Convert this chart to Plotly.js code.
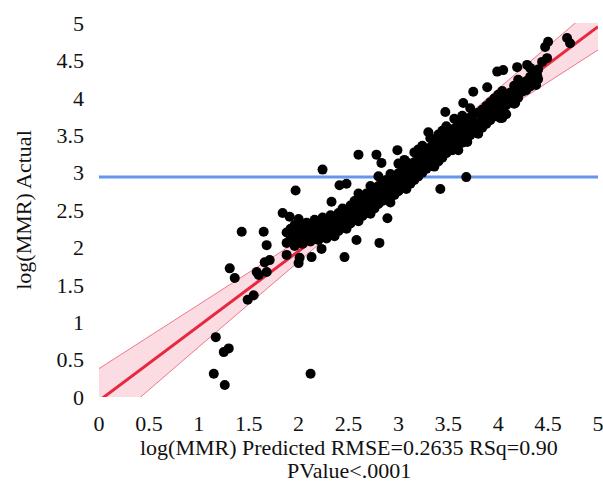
<!DOCTYPE html>
<html>
<head>
<meta charset="utf-8">
<script src="https://cdn.plot.ly/plotly-3.0.1.min.js"></script>
<style>html,body{margin:0;padding:0;background:#fff;}#chart{width:603px;height:483px;}</style>
</head>
<body>
<div id="chart"></div>
<script>
// Scatter data: log(MMR) predicted (x) vs actual (y)
const predicted = [
1.17,1.25,1.30,1.15,1.26,2.12,1.31,1.36,1.49,1.55,1.58,1.60,1.68,1.71,1.66,1.68,1.65,1.43,1.84,1.91,1.97,1.88,2.01,2.00,2.13,2.23,2.46,2.24,2.41,2.48,2.33,2.60,2.78,2.83,2.99,3.68,3.42,2.89,2.81,2.58,
4.50,4.47,4.69,4.72,4.49,4.44,4.32,4.39,4.29,4.38,4.17,4.02,3.99,4.05,4.19,3.89,3.75,4.19,3.65,3.47,4.04,3.80,3.69,3.54,3.30,3.06,4.37,
1.88,1.88,1.92,1.92,1.96,1.96,1.96,2.00,2.00,2.00,2.04,2.04,2.04,2.08,2.08,2.08,2.12,2.12,2.12,
2.16,2.16,2.16,2.20,2.20,2.20,2.24,2.24,2.24,2.28,2.28,2.28,2.32,2.32,2.32,2.36,2.36,2.36,
2.40,2.40,2.40,2.44,2.44,2.44,2.48,2.48,2.48,2.52,2.52,2.52,2.56,2.56,2.56,
2.60,2.60,2.60,2.60,2.64,2.64,2.64,2.68,2.68,2.68,2.72,2.72,2.72,2.72,2.76,2.76,2.76,
2.80,2.80,2.80,2.80,2.84,2.84,2.84,2.88,2.88,2.88,2.92,2.92,2.92,2.92,2.96,2.96,2.96,
3.00,3.00,3.00,3.00,3.04,3.04,3.04,3.08,3.08,3.08,3.08,3.12,3.12,3.12,3.16,3.16,3.16,3.16,
3.20,3.20,3.20,3.20,3.24,3.24,3.24,3.24,3.28,3.28,3.28,3.32,3.32,3.32,3.32,3.36,3.36,3.36,3.36,
3.40,3.40,3.40,3.40,3.44,3.44,3.44,3.44,3.48,3.48,3.48,3.48,3.52,3.52,3.52,3.56,3.56,3.56,3.56,
3.60,3.60,3.60,3.60,3.64,3.64,3.64,3.64,3.68,3.68,3.68,3.72,3.72,3.72,3.72,3.76,3.76,3.76,
3.80,3.80,3.80,3.84,3.84,3.84,3.88,3.88,3.88,3.92,3.92,3.92,3.96,3.96,3.96,
4.00,4.00,4.00,4.04,4.04,4.04,4.08,4.08,4.08,4.12,4.12,4.16,4.16,4.16,4.20,4.20,4.20,
4.24,4.24,4.28,4.28,4.32,4.32,4.36,4.36,4.40,4.40
];
const actual = [
0.80,0.60,0.65,0.31,0.16,0.31,1.72,1.59,1.30,1.36,1.67,1.63,1.67,1.83,1.80,2.03,2.21,2.21,2.46,2.41,2.76,1.90,1.86,1.79,1.87,1.98,1.87,3.04,2.83,2.85,2.61,3.24,3.24,3.13,3.30,2.94,2.78,2.39,2.06,2.10,
4.75,4.68,4.80,4.73,4.53,4.48,4.40,4.30,4.44,4.17,3.93,3.73,4.35,4.37,4.41,4.14,4.08,4.17,3.93,3.81,3.73,3.60,3.41,3.30,3.54,3.17,4.30,
2.06,2.20,2.12,2.25,2.02,2.17,2.30,2.10,2.22,2.38,2.05,2.18,2.28,2.13,2.24,2.33,2.08,2.20,2.30,
2.15,2.26,2.37,2.10,2.22,2.32,2.18,2.28,2.40,2.12,2.25,2.35,2.20,2.31,2.43,2.15,2.27,2.38,
2.22,2.34,2.46,2.28,2.40,2.52,2.25,2.38,2.50,2.32,2.44,2.56,2.38,2.50,2.62,
2.35,2.48,2.60,2.72,2.42,2.54,2.66,2.48,2.60,2.72,2.45,2.57,2.69,2.82,2.52,2.64,2.76,
2.58,2.70,2.82,2.95,2.62,2.74,2.86,2.66,2.78,2.90,2.60,2.72,2.84,2.98,2.70,2.82,2.94,
2.75,2.87,2.99,3.12,2.80,2.92,3.04,2.78,2.90,3.02,3.14,2.85,2.97,3.09,2.90,3.02,3.14,3.27,
2.95,3.07,3.19,3.31,3.00,3.12,3.24,3.36,3.05,3.17,3.29,3.10,3.22,3.34,3.46,3.08,3.20,3.32,3.44,
3.15,3.27,3.39,3.51,3.20,3.32,3.44,3.56,3.26,3.38,3.50,3.62,3.30,3.42,3.54,3.35,3.47,3.59,3.72,
3.30,3.42,3.54,3.66,3.40,3.52,3.64,3.76,3.45,3.57,3.69,3.50,3.62,3.74,3.86,3.55,3.67,3.79,
3.52,3.66,3.80,3.60,3.72,3.84,3.65,3.77,3.89,3.70,3.82,3.94,3.75,3.87,3.99,
3.80,3.92,4.04,3.85,3.97,4.09,3.78,3.90,4.02,3.95,4.07,3.92,4.04,4.16,4.00,4.12,4.24,
4.08,4.20,4.10,4.22,4.15,4.28,4.20,4.32,4.25,4.38
];
// Fit line and its confidence band
const fitX = [0, 5];
const fitY = [-0.05, 4.95];
const bandX = [0, 0.5, 1, 1.5, 2, 2.5, 3, 3.5, 4, 4.5, 5];
const bandUpper = [0.38, 0.81, 1.23, 1.66, 2.09, 2.52, 2.98, 3.54, 4.12, 4.69, 5.26];
const bandLower = [-0.48, 0.10, 0.67, 1.24, 1.81, 2.38, 2.92, 3.36, 3.78, 4.21, 4.64];
// Horizontal reference line
const refX = [0, 5];
const refY = [2.94, 2.94];
const tickVals = [0, 0.5, 1, 1.5, 2, 2.5, 3, 3.5, 4, 4.5, 5];
const tickText = ['0', '0.5', '1', '1.5', '2', '2.5', '3', '3.5', '4', '4.5', '5'];
const xTitleLines = ['log(MMR) Predicted RMSE=0.2635 RSq=0.90', 'PValue<.0001'];

const serif = "Liberation Serif";
const f22 = {family: serif, size: 22, color: '#111'};
const traces = [
  {x: bandX, y: bandLower, mode: 'lines', line: {color: 'rgba(232,70,100,0.7)', width: 1}, hoverinfo: 'skip', showlegend: false},
  {x: bandX, y: bandUpper, mode: 'lines', fill: 'tonexty', fillcolor: 'rgba(232,60,95,0.18)', line: {color: 'rgba(232,70,100,0.7)', width: 1}, hoverinfo: 'skip', showlegend: false},
  {x: fitX, y: fitY, mode: 'lines', line: {color: 'rgb(232,40,65)', width: 3}, showlegend: false},
  {x: refX, y: refY, mode: 'lines', line: {color: 'rgb(100,150,235)', width: 3}, showlegend: false},
  {x: predicted, y: actual, mode: 'markers', type: 'scatter', marker: {color: '#000', size: 10}, showlegend: false}
];
const layout = {
  width: 603, height: 483,
  margin: {l: 99, r: 5, t: 23, b: 86},
  paper_bgcolor: '#fff', plot_bgcolor: '#fff',
  font: f22,
  showlegend: false,
  annotations: xTitleLines.map((t, i) => ({
    xref: 'paper', yref: 'paper', x: 0.5, y: 0, xanchor: 'center', yanchor: 'middle',
    yshift: -50 - i * 23, borderpad: 0, text: t, showarrow: false, font: f22
  })),
  xaxis: {range: [0, 5], tickvals: tickVals, ticktext: tickText, tickfont: f22,
    showgrid: false, zeroline: false, showline: false, ticks: '', ticklabelstandoff: 11, ticklabeloverflow: 'allow'},
  yaxis: {range: [0, 5], tickvals: tickVals, ticktext: tickText, tickfont: f22,
    showgrid: false, zeroline: false, showline: false, ticks: '', ticklabelstandoff: 14,
    title: {text: 'log(MMR) Actual', font: f22, standoff: 18}}
};
Plotly.newPlot('chart', traces, layout, {displayModeBar: false, staticPlot: true});
</script>
</body>
</html>
